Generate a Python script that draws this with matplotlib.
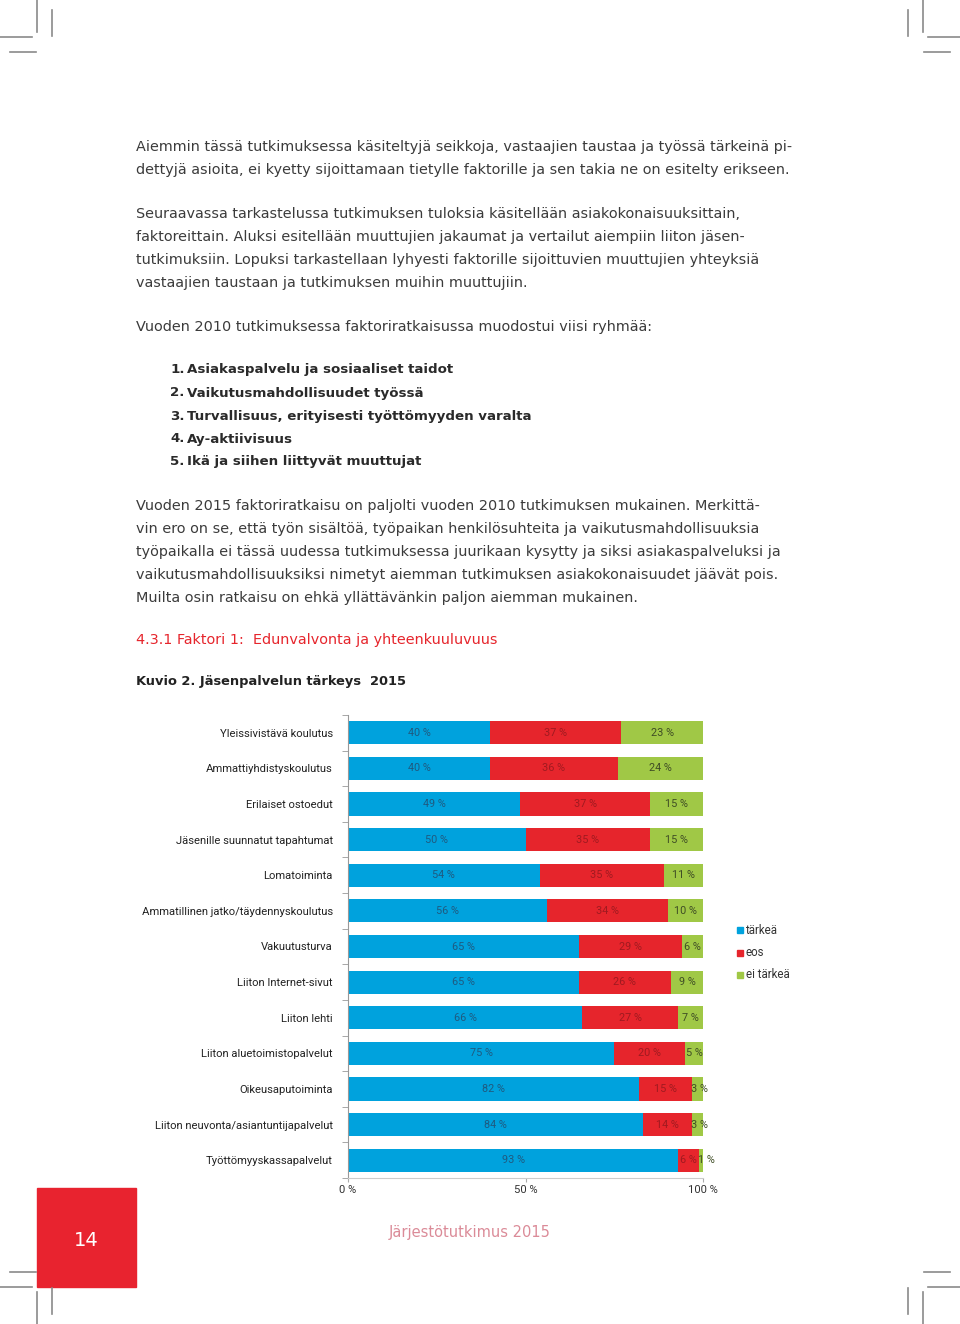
import matplotlib
matplotlib.use("Agg")
import matplotlib.pyplot as plt
from matplotlib.lines import Line2D
from matplotlib.patches import Rectangle
import numpy as np

W, H = 960, 1324

# ---------------- data ----------------
categories = [
    "Yleissivistävä koulutus",
    "Ammattiyhdistyskoulutus",
    "Erilaiset ostoedut",
    "Jäsenille suunnatut tapahtumat",
    "Lomatoiminta",
    "Ammatillinen jatko/täydennyskoulutus",
    "Vakuutusturva",
    "Liiton Internet-sivut",
    "Liiton lehti",
    "Liiton aluetoimistopalvelut",
    "Oikeusaputoiminta",
    "Liiton neuvonta/asiantuntijapalvelut",
    "Työttömyyskassapalvelut",
]
tarkea = [40, 40, 49, 50, 54, 56, 65, 65, 66, 75, 82, 84, 93]
eos = [37, 36, 37, 35, 35, 34, 29, 26, 27, 20, 15, 14, 6]
ei_tarkea = [23, 24, 15, 15, 11, 10, 6, 9, 7, 5, 3, 3, 1]
series_names = ["tärkeä", "eos", "ei tärkeä"]
x_ticks = [0, 50, 100]
x_ticklabels = ["0 %", "50 %", "100 %"]

para1 = [
    "Aiemmin tässä tutkimuksessa käsiteltyjä seikkoja, vastaajien taustaa ja työssä tärkeinä pi-",
    "dettyjä asioita, ei kyetty sijoittamaan tietylle faktorille ja sen takia ne on esitelty erikseen.",
]
para2 = [
    "Seuraavassa tarkastelussa tutkimuksen tuloksia käsitellään asiakokonaisuuksittain,",
    "faktoreittain. Aluksi esitellään muuttujien jakaumat ja vertailut aiempiin liiton jäsen-",
    "tutkimuksiin. Lopuksi tarkastellaan lyhyesti faktorille sijoittuvien muuttujien yhteyksiä",
    "vastaajien taustaan ja tutkimuksen muihin muuttujiin.",
]
para3 = ["Vuoden 2010 tutkimuksessa faktoriratkaisussa muodostui viisi ryhmää:"]
list_items = [
    "Asiakaspalvelu ja sosiaaliset taidot",
    "Vaikutusmahdollisuudet työssä",
    "Turvallisuus, erityisesti työttömyyden varalta",
    "Ay-aktiivisuus",
    "Ikä ja siihen liittyvät muuttujat",
]
para4 = [
    "Vuoden 2015 faktoriratkaisu on paljolti vuoden 2010 tutkimuksen mukainen. Merkittä-",
    "vin ero on se, että työn sisältöä, työpaikan henkilösuhteita ja vaikutusmahdollisuuksia",
    "työpaikalla ei tässä uudessa tutkimuksessa juurikaan kysytty ja siksi asiakaspalveluksi ja",
    "vaikutusmahdollisuuksiksi nimetyt aiemman tutkimuksen asiakokonaisuudet jäävät pois.",
    "Muilta osin ratkaisu on ehkä yllättävänkin paljon aiemman mukainen.",
]
heading = "4.3.1 Faktori 1:  Edunvalvonta ja yhteenkuuluvuus"
fig_title = "Kuvio 2. Jäsenpalvelun tärkeys  2015"
footer = "Järjestötutkimus 2015"
page_no = "14"

# ---------------- style ----------------
C_BLUE = "#00a2dd"
C_RED = "#e6252c"
C_GREEN = "#a0c846"
TXT = "#3b3b3b"
BODY_FONT = ["DejaVu Sans"]
BODY_SIZE = 10.35
LABEL_FONT = ["Liberation Sans Narrow", "Roboto", "DejaVu Sans"]

fig = plt.figure(figsize=(W / 100, H / 100), dpi=100)


def fx(x):
    return x / W


def fy(y):
    return 1 - y / H


def ptext(x, y, s, **kw):
    kw.setdefault("va", "center")
    kw.setdefault("ha", "left")
    fig.text(fx(x), fy(y), s, **kw)


# body text
def para(lines, y0, step=23):
    for i, ln in enumerate(lines):
        ptext(136, y0 + i * step, ln, family=BODY_FONT, size=BODY_SIZE, color=TXT)


para(para1, 147)
para(para2, 214)
para(para3, 327)
for i, item in enumerate(list_items):
    ptext(170, 370 + i * 23, f"{i + 1}.", family=BODY_FONT, size=9.6,
          color="#2a2a2a", weight="bold")
    ptext(187, 370 + i * 23, item, family=BODY_FONT, size=9.6,
          color="#2a2a2a", weight="bold")
para(para4, 506)
ptext(136, 640, heading, family=BODY_FONT, size=10.4, color=C_RED)
ptext(136, 681, fig_title, family=BODY_FONT, size=9.4, color="#222222",
      weight="bold")

# ---------------- chart ----------------
ax_l, ax_r, ax_t, ax_b = 348, 703, 715, 1178
ax = fig.add_axes([fx(ax_l), fy(ax_b), (ax_r - ax_l) / W, (ax_b - ax_t) / H])

vals = np.array([tarkea, eos, ei_tarkea], dtype=float)
tot = vals.sum(axis=0)
norm = vals / tot * 100
y = np.arange(len(categories))
colors = [C_BLUE, C_RED, C_GREEN]
lab_cols = ["#1f5a80", "#a01a20", "#3f4d25"]
left = np.zeros(len(categories))
for k in range(3):
    ax.barh(y, norm[k], left=left, height=0.65, color=colors[k],
            label=series_names[k], zorder=2)
    for i in range(len(categories)):
        v = vals[k, i]
        cx = left[i] + norm[k, i] / 2
        if v < 4:
            cx += (4 - v) * 0.5
        ax.text(cx, y[i], f"{int(v)} %", ha="center", va="center",
                family=LABEL_FONT, size=7.8, color=lab_cols[k], zorder=3)
    left = left + norm[k]

ax.set_xlim(0, 100)
ax.set_ylim(len(categories) - 0.5, -0.5)
ax.set_yticks(y)
ax.set_yticklabels(categories, family=LABEL_FONT, size=8.1, color="#222222")
ax.set_yticks(np.arange(len(categories) + 1) - 0.5, minor=True)
ax.tick_params(axis="y", which="major", length=0, pad=11)
ax.tick_params(axis="y", which="minor", length=4, color="#999999", direction="out")
ax.set_xticks(x_ticks)
ax.set_xticklabels(x_ticklabels, family=LABEL_FONT, size=8.1, color="#333333")
ax.tick_params(axis="x", length=3, color="#aaaaaa", pad=2)
for s in ["top", "right"]:
    ax.spines[s].set_visible(False)
ax.spines["left"].set_color("#999999")
ax.spines["bottom"].set_color("#cccccc")
ax.patch.set_alpha(0)

# legend
for i, (nm, c) in enumerate(zip(series_names, colors)):
    yy = 930 + i * 22.5
    fig.patches.append(Rectangle((fx(737), fy(yy + 3)), 6 / W, 6 / H,
                                 transform=fig.transFigure, color=c))
    ptext(746, yy, nm, family=LABEL_FONT, size=8.3, color="#333333")

# ---------------- page decorations ----------------
fig.patches.append(Rectangle((fx(37), fy(1287)), 99 / W, 99 / H,
                             transform=fig.transFigure, color="#e8232f"))
ptext(86, 1240, page_no, ha="center", family=BODY_FONT, size=14, color="white")
ptext(470, 1233, footer, ha="center", family=BODY_FONT, size=10.5, color="#db8b98")

GRAY = "#8a8a8a"


def seg(x0, y0, x1, y1):
    fig.add_artist(Line2D([fx(x0), fx(x1)], [fy(y0), fy(y1)], color=GRAY, lw=1.2,
                          transform=fig.transFigure))


# crop marks (top)
seg(37, 0, 37, 32); seg(52, 10, 52, 36); seg(0, 37, 32, 37); seg(10, 52, 36, 52)
seg(923, 0, 923, 32); seg(908, 10, 908, 36); seg(928, 37, 960, 37); seg(924, 52, 950, 52)
# crop marks (bottom)
seg(37, 1292, 37, 1324); seg(52, 1288, 52, 1314); seg(0, 1287, 32, 1287); seg(10, 1272, 36, 1272)
seg(923, 1292, 923, 1324); seg(908, 1288, 908, 1314); seg(928, 1287, 960, 1287); seg(924, 1272, 950, 1272)

fig.savefig("out.png", dpi=100, facecolor="white")
